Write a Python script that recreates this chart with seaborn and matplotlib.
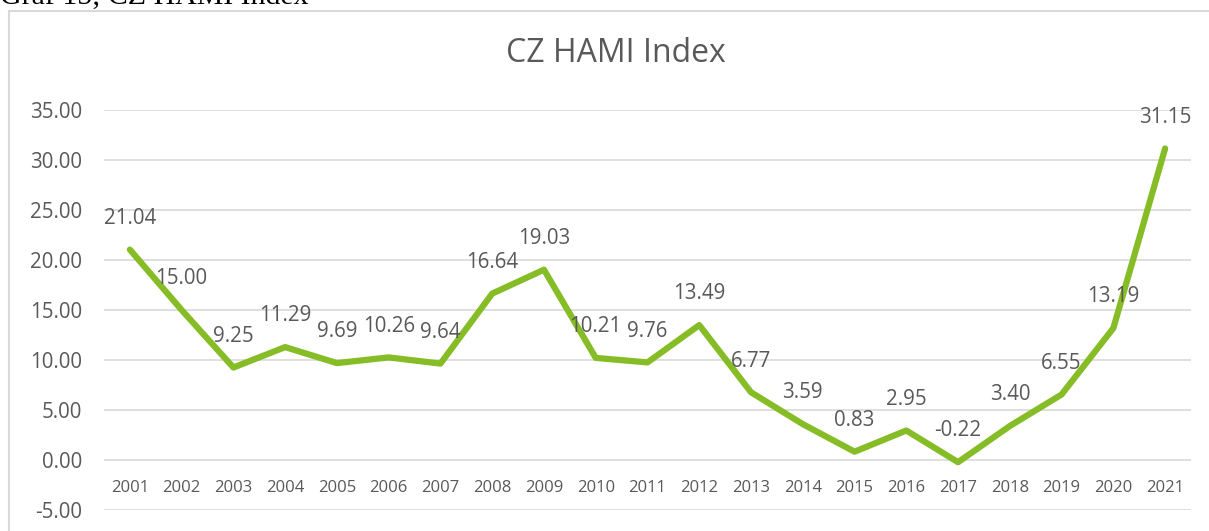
import matplotlib
matplotlib.use("Agg")
import matplotlib.pyplot as plt
import seaborn as sns
import pandas as pd
from matplotlib.patches import Rectangle

# -------------------
# Data
# -------------------
years = [str(y) for y in range(2001, 2022)]
hami_index = [21.04, 15.00, 9.25, 11.29, 9.69, 10.26, 9.64, 16.64, 19.03, 10.21,
              9.76, 13.49, 6.77, 3.59, 0.83, 2.95, -0.22, 3.40, 6.55, 13.19, 31.15]
y_ticks = [-5, 0, 5, 10, 15, 20, 25, 30, 35]

df = pd.DataFrame({"year": years, "hami": hami_index})

# -------------------
# Style
# -------------------
sns.set_theme(style="white")
plt.rcParams["font.family"] = ["Open Sans", "DejaVu Sans"]
text_color = "#595959"
grid_color = "#d9d9d9"
line_color = "#86bc25"

W, H = 1209, 531
fig = plt.figure(figsize=(W / 100, H / 100), dpi=100)

# chart frame (cropped at right and bottom like the reference)
fig.patches.append(Rectangle((9 / W, -0.1), 1.2, 1 - 11 / H + 0.1,
                             transform=fig.transFigure, fill=False,
                             edgecolor=grid_color, linewidth=1.5))

# caption from the document above the chart, cropped at the top edge
fig.text(0.0, 1 - 5 / H, "Graf 15; CZ HAMI Index", family="Liberation Serif",
         fontsize=21.5, color="black", ha="left", va="baseline")

ax = fig.add_axes([104 / W, (H - 510) / H, 1087 / W, 400 / H])

sns.lineplot(data=df, x="year", y="hami", sort=False, color=line_color,
             linewidth=4.5, ax=ax, solid_capstyle="round", solid_joinstyle="round")

ax.set_xlim(-0.5, len(years) - 0.5)
ax.set_ylim(y_ticks[0], y_ticks[-1])
ax.set_yticks(y_ticks)
ax.set_yticklabels([f"{v:.2f}" for v in y_ticks])
ax.yaxis.grid(True, color=grid_color, linewidth=1.2)
ax.set_axisbelow(True)

for side in ["top", "right", "left", "bottom"]:
    ax.spines[side].set_visible(False)
ax.spines["bottom"].set_position(("data", 0))

ax.tick_params(axis="y", length=0, pad=16, labelsize=14.8, labelcolor=text_color)
ax.tick_params(axis="x", length=0, pad=14.5, labelsize=12, labelcolor=text_color)
ax.set_xlabel("")
ax.set_ylabel("")

# data labels above each point
for i, v in enumerate(hami_index):
    ax.annotate(f"{v:.2f}", (i, v), xytext=(0, 22.5), textcoords="offset points",
                ha="center", va="center", fontsize=14.8, color=text_color)

fig.text(616 / W, 1 - 54 / H, "CZ HAMI Index", ha="center", va="center",
         fontsize=23, color=text_color)

fig.savefig("out.png", dpi=100)
